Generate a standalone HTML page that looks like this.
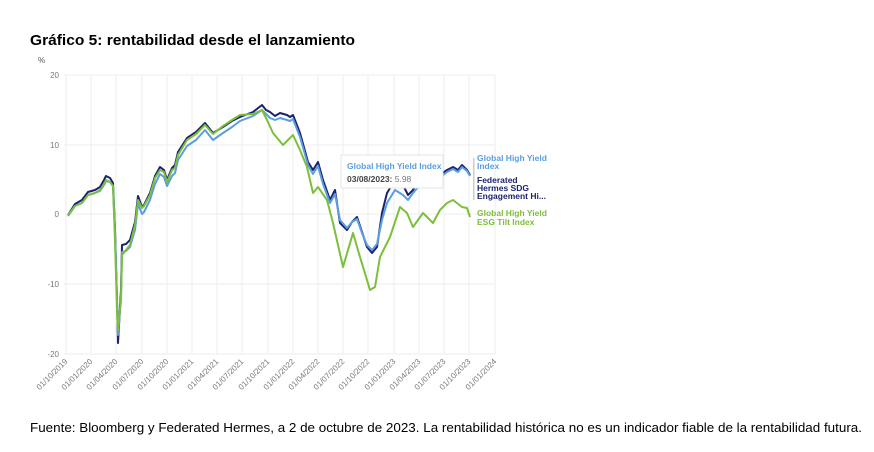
<!DOCTYPE html>
<html><head><meta charset="utf-8"><style>
body{margin:0;background:#fff;width:874px;height:452px;overflow:hidden;font-family:"Liberation Sans",sans-serif}
</style></head><body>
<svg width="874" height="452" xmlns="http://www.w3.org/2000/svg" style="position:absolute;left:0;top:0">
<text x="30" y="45" font-size="15" font-weight="bold" fill="#000" textLength="325" lengthAdjust="spacingAndGlyphs">Gráfico 5: rentabilidad desde el lanzamiento</text>
<text x="38" y="63" font-size="8" fill="#555">%</text>
<g stroke="#eeeeee" stroke-width="1">
<line x1="64" y1="75" x2="495" y2="75"/><line x1="64" y1="145" x2="495" y2="145"/><line x1="64" y1="214" x2="495" y2="214"/><line x1="64" y1="284" x2="495" y2="284"/><line x1="64" y1="354" x2="495" y2="354"/>
<line x1="66" y1="75" x2="66" y2="354"/><line x1="91" y1="75" x2="91" y2="354"/><line x1="116" y1="75" x2="116" y2="354"/><line x1="142" y1="75" x2="142" y2="354"/><line x1="167" y1="75" x2="167" y2="354"/><line x1="192" y1="75" x2="192" y2="354"/><line x1="217" y1="75" x2="217" y2="354"/><line x1="242" y1="75" x2="242" y2="354"/><line x1="268" y1="75" x2="268" y2="354"/><line x1="293" y1="75" x2="293" y2="354"/><line x1="318" y1="75" x2="318" y2="354"/><line x1="343" y1="75" x2="343" y2="354"/><line x1="368" y1="75" x2="368" y2="354"/><line x1="394" y1="75" x2="394" y2="354"/><line x1="419" y1="75" x2="419" y2="354"/><line x1="444" y1="75" x2="444" y2="354"/><line x1="469" y1="75" x2="469" y2="354"/><line x1="495" y1="75" x2="495" y2="354"/>
</g>
<g font-size="8" fill="#777" text-anchor="end">
<text x="59" y="78">20</text><text x="59" y="148">10</text><text x="59" y="217">0</text><text x="59" y="287">-10</text><text x="59" y="357">-20</text>
</g>
<g font-size="8" fill="#777" text-anchor="end">
<text transform="translate(68,362) rotate(-45)">01/10/2019</text>
<text transform="translate(93,362) rotate(-45)">01/01/2020</text>
<text transform="translate(118,362) rotate(-45)">01/04/2020</text>
<text transform="translate(144,362) rotate(-45)">01/07/2020</text>
<text transform="translate(169,362) rotate(-45)">01/10/2020</text>
<text transform="translate(194,362) rotate(-45)">01/01/2021</text>
<text transform="translate(219,362) rotate(-45)">01/04/2021</text>
<text transform="translate(244,362) rotate(-45)">01/07/2021</text>
<text transform="translate(270,362) rotate(-45)">01/10/2021</text>
<text transform="translate(295,362) rotate(-45)">01/01/2022</text>
<text transform="translate(320,362) rotate(-45)">01/04/2022</text>
<text transform="translate(345,362) rotate(-45)">01/07/2022</text>
<text transform="translate(370,362) rotate(-45)">01/10/2022</text>
<text transform="translate(396,362) rotate(-45)">01/01/2023</text>
<text transform="translate(421,362) rotate(-45)">01/04/2023</text>
<text transform="translate(446,362) rotate(-45)">01/07/2023</text>
<text transform="translate(471,362) rotate(-45)">01/10/2023</text>
<text transform="translate(497,362) rotate(-45)">01/01/2024</text>
</g>
<g fill="none" stroke-width="2" stroke-linejoin="round">
<polyline stroke="#1c2270" points="68,215 75,204 82,200 88,192 95,190 100,187 104,180 106,176 110,178 113,183 115,230 117,300 118,343 121,290 122,245 126,244 130,240 135,222 138,196 142,207 144,205 150,193 155,176 160,167 164,170 167,180 172,168 175,165 178,152 187,138 196,132 205,123 213,133 223,127 232,121 240,117 253,112 262,105 266,110 270,112 275,116 280,113 287,115 290,117 293,115 300,133 308,162 313,170 318,162 323,180 330,200 335,190 340,223 347,230 352,222 357,217 362,232 367,247 372,253 377,247 382,213 387,193 395,180 403,185 408,195 413,190 420,177 430,180 437,177 447,170 453,167 458,170 462,165 467,170 470,175"/>
<polyline stroke="#5b9ee0" points="68,216 75,206 82,203 88,195 95,193 100,191 104,185 106,181 110,182 113,186 115,232 117,300 118,335 121,298 122,252 126,251 130,247 135,230 138,204 142,214 144,212 150,200 155,184 160,174 164,177 167,186 172,176 175,173 178,160 187,146 196,140 205,130 213,140 223,133 232,127 240,121 253,116 262,110 266,114 270,118 275,120 280,118 287,120 290,121 293,119 300,137 308,165 313,174 318,166 323,184 330,203 335,194 340,220 347,228 352,222 357,219 362,233 367,245 372,250 377,244 382,220 387,203 395,190 403,195 408,200 413,193 420,185 430,185 437,180 447,172 453,169 458,172 462,167 467,171 470,176"/>
<polyline stroke="#7cbf3a" points="68,215 75,206 82,203 88,195 95,193 100,190 104,184 106,180 110,182 113,186 115,240 117,310 118,330 121,300 122,255 126,250 130,245 135,225 138,200 142,208 144,206 150,195 155,178 160,170 164,172 167,182 172,170 175,168 178,155 187,140 196,134 205,125 213,134 223,126 232,120 240,115 253,114 262,110 268,122 273,133 283,145 290,138 293,135 300,150 307,167 313,193 318,187 327,200 333,223 343,267 353,233 360,257 370,290 375,287 380,257 390,237 400,207 407,213 413,227 423,213 433,223 440,210 447,203 453,200 462,207 467,208 470,217"/>
</g>
<rect x="473" y="158" width="1.5" height="42" fill="#ccc"/>
<g font-size="8.5" font-weight="bold">
<text x="477" y="161" fill="#5b9ee0">Global High Yield</text>
<text x="477" y="169" fill="#5b9ee0">Index</text>
<text x="477" y="183" fill="#1c2270">Federated</text>
<text x="477" y="191" fill="#1c2270">Hermes SDG</text>
<text x="477" y="199" fill="#1c2270">Engagement Hi...</text>
<text x="477" y="216" fill="#7cbf3a">Global High Yield</text>
<text x="477" y="225" fill="#7cbf3a">ESG Tilt Index</text>
</g>
<rect x="341" y="155" width="102" height="33" fill="#fff" stroke="#e4e4e4" stroke-width="1"/>
<text x="347" y="169" font-size="8.5" font-weight="bold" fill="#5b9ee0">Global High Yield Index</text>
<text x="347" y="182" font-size="8.5" fill="#777"><tspan font-weight="bold" fill="#444">03/08/2023:</tspan> 5.98</text>
<text x="30" y="432" font-size="13" fill="#000" textLength="832" lengthAdjust="spacingAndGlyphs">Fuente: Bloomberg y Federated Hermes, a 2 de octubre de 2023. La rentabilidad histórica no es un indicador fiable de la rentabilidad futura.</text>
</svg>
</body></html>
